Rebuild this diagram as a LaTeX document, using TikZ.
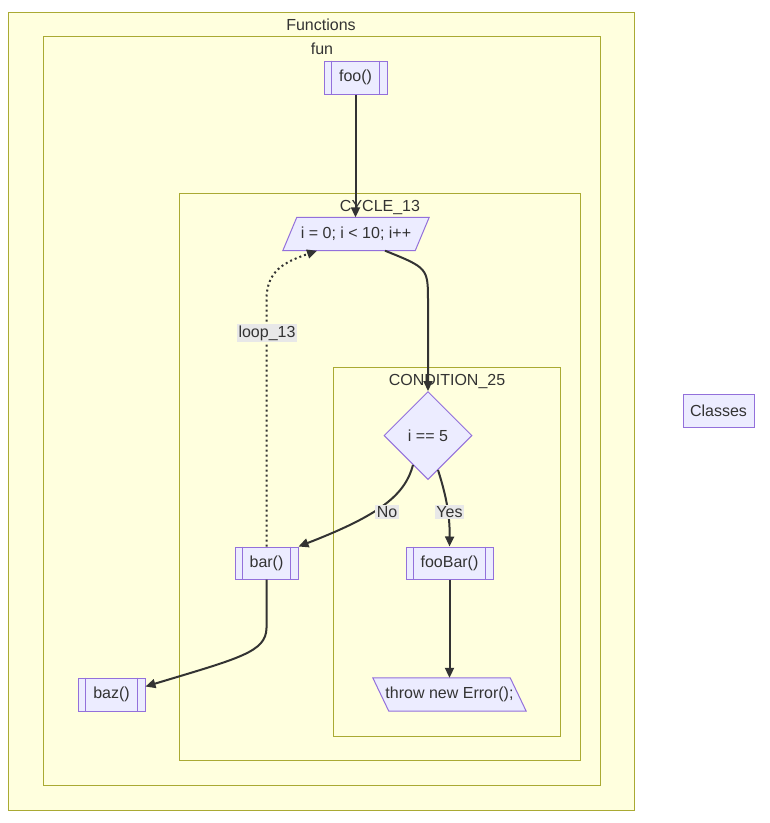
\documentclass[tikz,border=0pt]{standalone}
\usepackage{fontspec}
\setmainfont{Liberation Sans}
\usetikzlibrary{shapes.geometric,arrows.meta}
\definecolor{clusterfill}{HTML}{FFFFDE}
\definecolor{clusterline}{HTML}{AAAA33}
\definecolor{nodefill}{HTML}{ECECFF}
\definecolor{nodeline}{HTML}{9370DB}
\definecolor{ink}{HTML}{333333}
\definecolor{lblbg}{HTML}{E8E8E8}
\begin{document}
\begin{tikzpicture}[x=1pt,y=-1pt,
  txt/.style={text=ink,font=\fontsize{16}{19}\selectfont},
  cluster/.style={draw=clusterline,fill=clusterfill,line width=1pt},
  ctitle/.style={txt,inner sep=0pt,anchor=center},
  box/.style={txt,draw=nodeline,fill=nodefill,line width=1pt,inner sep=0pt,minimum height=33pt},
  plain/.style={txt,inner sep=0pt,minimum height=33pt},
  shapeline/.style={draw=nodeline,fill=nodefill,line width=1pt},
  subline/.style={draw=nodeline,line width=1pt},
  edge/.style={draw=ink,line width=2pt,-{Triangle[length=10pt,width=9pt]}},
  dotedge/.style={edge,dash pattern=on 2pt off 3pt},
  lbl/.style={txt,fill=lblbg,inner sep=1.5pt}]
\useasboundingbox (0,0) rectangle (770,823);
% clusters
\draw[cluster] (8.5,12.5) rectangle (634.5,810.5);
\node[ctitle] (tFunctions) at (321,25) {Functions};
\draw[cluster] (43.5,36.5) rectangle (600.5,785.5);
\node[ctitle] (tfun) at (322,49) {fun};
\draw[cluster] (179.5,193.5) rectangle (580.5,760.5);
\node[ctitle] (tcycle) at (380,207) {CYCLE\_13};
\draw[cluster] (333.5,367.5) rectangle (560.5,736.5);
\node[ctitle] (tcond) at (447,381) {CONDITION\_25};
% nodes
\node[box,minimum width=63pt] (foo) at (355.5,77.5) {foo()};
\node[box,minimum width=63pt,minimum height=32pt] (bar) at (266.5,563) {bar()};
\node[box,minimum width=87pt,minimum height=32pt] (fooBar) at (449.5,563) {fooBar()};
\node[box,minimum width=67pt] (baz) at (111.5,694.5) {baz()};
\node[box,minimum width=71pt] (classes) at (718.5,410.5) {Classes};
\foreach \n in {foo,bar,fooBar,baz}{
  \draw[subline] ([xshift=8pt]\n.north west) -- ([xshift=8pt]\n.south west);
  \draw[subline] ([xshift=-8pt]\n.north east) -- ([xshift=-8pt]\n.south east);
}
% parallelograms
\node[plain,minimum width=132pt] (cyc) at (356,234) {};
\draw[shapeline] ([xshift=7pt]cyc.north west) -- ([xshift=7pt]cyc.north east)
  -- ([xshift=-7pt]cyc.south east) -- ([xshift=-7pt]cyc.south west) -- cycle;
\node[txt,inner sep=0pt] at (cyc.center) {i = 0; i < 10; i++};
\node[plain,minimum width=137pt] (throw) at (449.5,694.5) {};
\draw[shapeline] ([xshift=-8pt]throw.north west) -- ([xshift=-8pt]throw.north east)
  -- ([xshift=8pt]throw.south east) -- ([xshift=8pt]throw.south west) -- cycle;
\node[txt,inner sep=0pt] at (throw.center) {throw new Error();};
% diamond
\node[txt,diamond,draw=nodeline,fill=nodefill,line width=1pt,inner sep=0pt,
  minimum width=88pt,minimum height=88pt] (dia) at (428,435.5) {i == 5};
% edges
\draw[edge] (foo.south) -- (foo.south |- cyc.north);
\draw[edge] ([xshift=29pt]cyc.south) .. controls (428,268) .. (428,302) -- (dia.north);
\draw[edge] (413,465) .. controls (405,495) and (380,515) .. (bar.north east);
\node[lbl] (lNo) at (387,512) {No};
\draw[edge] (438,470) .. controls (446,495) and (450,515) .. (fooBar.north);
\node[lbl] (lYes) at (449.5,512) {Yes};
\draw[dotedge] (bar.north) -- (266.5,300) .. controls (266.5,270) and (285,262) .. ([xshift=-39pt]cyc.south);
\node[lbl] (lLoop) at (267,333) {loop\_13};
\draw[edge] (bar.south) -- (266.5,628) .. controls (266,652) and (240,658) .. ([yshift=8pt]baz.east);
\draw[edge] (fooBar.south) -- (throw.north);
\end{tikzpicture}
\end{document}
